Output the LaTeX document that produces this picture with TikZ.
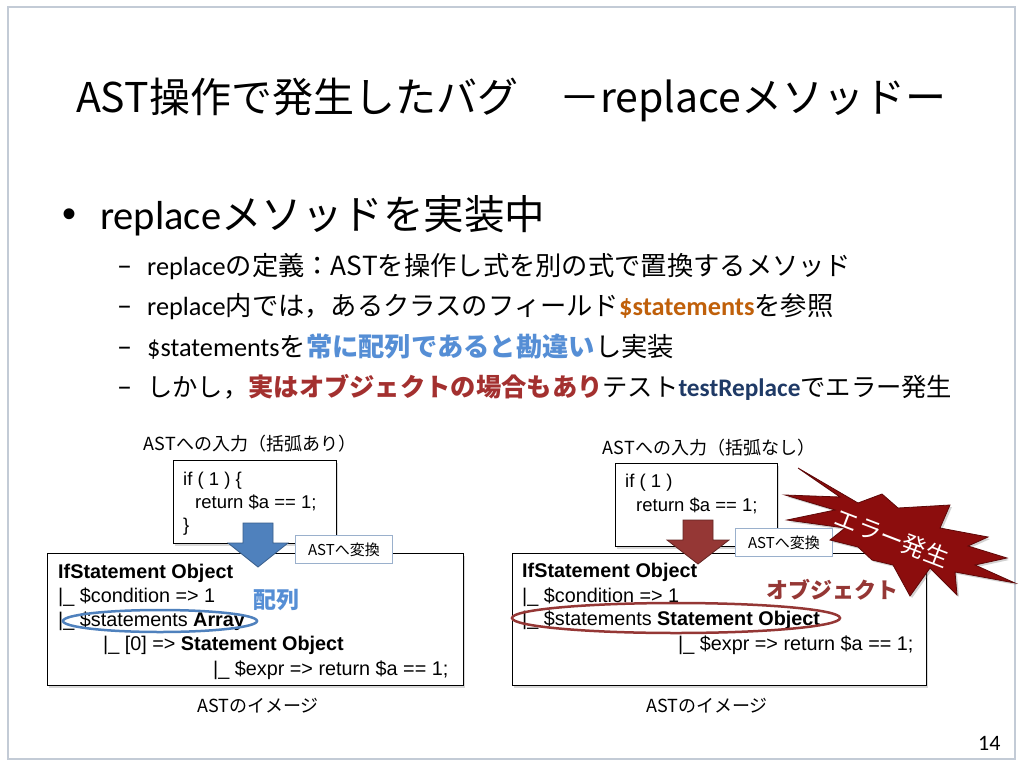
\documentclass[tikz,border=0pt]{standalone}
\usepackage{fontspec}
\setmainfont{Liberation Sans}
\newfontfamily\jpfont{Noto Sans CJK JP}
\newfontfamily\calfont{Carlito}
\usepackage{xcolor}
\usetikzlibrary{shadows}

\definecolor{framegray}{HTML}{C3CBD6}
\definecolor{arrowblue}{HTML}{4F81BD}
\definecolor{arrowblueline}{HTML}{385D8A}
\definecolor{arrowred}{HTML}{953735}
\definecolor{arrowredline}{HTML}{632523}
\definecolor{stmtorange}{HTML}{C0600A}
\definecolor{hintblue}{HTML}{558ED5}
\definecolor{hintred}{HTML}{A3302F}
\definecolor{testnavy}{HTML}{1F3A66}
\definecolor{burstred}{HTML}{8C0D0D}
\definecolor{burstline}{HTML}{5E0808}
\definecolor{convline}{HTML}{9AB0CC}
\newcommand{\setfs}[1]{\fontsize{#1}{#1}\selectfont}

\begin{document}
\begin{tikzpicture}[x=1pt,y=-1pt,
  txt/.style={inner sep=0pt, anchor=base west},
  code/.style={txt, font=\setfs{19.8}},
  incode/.style={txt, font=\setfs{18.5}},
  sub/.style={txt, font=\setfs{26.3}},
  caption/.style={inner sep=0pt, anchor=base, font=\jpfont\setfs{18}},
  codebox/.style={draw, fill=white, line width=0.9pt, inner sep=0pt, anchor=north west,
    drop shadow={shadow xshift=2pt, shadow yshift=-2.5pt, opacity=0.3}},
  convbox/.style={draw=convline, fill=white, line width=0.8pt, inner sep=0pt, anchor=north west,
    minimum width=97, minimum height=28, font=\jpfont\setfs{15}}]
\useasboundingbox (0,0) rectangle (1024,768);
\fill[white] (0,0) rectangle (1024,768);
\draw[framegray, line width=1.2pt] (8,7) rectangle (1015,759);

% title and bullets
\node[inner sep=0pt, anchor=base, font=\jpfont\setfs{41}] (title) at (511,112) {AST操作で発生したバグ　－replaceメソッドー};
\node[txt, font=\setfs{40}] (dot) at (62,227) {•};
\node[txt, font=\setfs{40.5}] (head) at (100,229) {{\calfont replace}{\jpfont メソッドを実装中}};
\foreach \y in {275,315,356,396}
  \node[txt, font=\calfont\setfs{30}] (dash\y) at (117,\y) {–};
\node[sub] (defn) at (147,275) {{\calfont replace}{\jpfont の定義：ASTを操作し式を別の式で置換するメソッド}};
\node[sub] (field) at (147,315) {{\calfont replace}{\jpfont 内では，あるクラスのフィールド}{\calfont\bfseries\color{stmtorange}\$statements}{\jpfont を参照}};
\node[sub] (mistake) at (147,356) {{\calfont \$statements}{\jpfont を}{\jpfont\bfseries\color{hintblue}常に配列であると勘違い}{\jpfont し実装}};
\node[sub, font=\setfs{25.3}] (actual) at (147,396) {{\jpfont しかし，}{\jpfont\bfseries\color{hintred}実はオブジェクトの場合もあり}{\jpfont テスト}{\calfont\bfseries\color{testnavy}testReplace}{\jpfont でエラー発生}};

% left: with braces
\node[caption] (inLcap) at (250,450) {ASTへの入力（括弧あり）};
\node[codebox, minimum width=163, minimum height=83] (inL) at (173,460) {};
\node[incode] (inL1) at (183,485) {if ( 1 ) \{};
\node[incode] (inL2) at (195,508) {return \$a == 1;};
\node[incode] (inL3) at (183,531) {\}};
\node[codebox, minimum width=416, minimum height=132] (astL) at (47,553) {};
\node[code] (astL1) at (58,578) {\bfseries IfStatement Object};
\node[code] (astL2) at (58,602) {|\_ \$condition => 1};
\node[code] (astL3) at (58,626) {|\_ \$statements \textbf{Array}};
\node[code] (astL4) at (103,650) {|\_ [0] => \textbf{Statement Object}};
\node[code] (astL5) at (213,675) {|\_ \$expr => return \$a == 1;};
\filldraw[fill=arrowblue, draw=arrowblueline, line width=0.8pt] (243,523) -- (273,523) -- (273,543) -- (288,543) -- (258,567) -- (228,543) -- (243,543) -- cycle;
\node[convbox] (convL) at (295,535) {ASTへ変換};
\node[inner sep=0pt, font=\jpfont\bfseries\setfs{23}, text=hintblue] (arrayL) at (276,600) {配列};
\draw[arrowblue, line width=2.5pt] (160,621) ellipse [x radius=97, y radius=11];
\node[caption] (imgL) at (258,712) {ASTのイメージ};

% right: without braces
\node[caption] (inRcap) at (709,454) {ASTへの入力（括弧なし）};
\node[codebox, minimum width=162, minimum height=83] (inR) at (615,463) {};
\node[incode] (inR1) at (625,487) {if ( 1 )};
\node[incode] (inR2) at (636,511) {return \$a == 1;};
\node[codebox, minimum width=414, minimum height=132] (astR) at (512,553) {};
\node[code] (astR1) at (522,577) {\bfseries IfStatement Object};
\node[code] (astR2) at (522,602) {|\_ \$condition => 1};
\node[code] (astR3) at (522,625) {|\_ \$statements \textbf{Statement Object}};
\node[code] (astR4) at (678,650) {|\_ \$expr => return \$a == 1;};
\filldraw[fill=arrowred, draw=arrowredline, line width=0.8pt] (683,520) -- (713,520) -- (713,540) -- (729,540) -- (698,564) -- (667,540) -- (683,540) -- cycle;
\node[convbox] (convR) at (735,528) {ASTへ変換};
\node[inner sep=0pt, font=\jpfont\bfseries\setfs{22}, text=arrowred] (objR) at (832,590) {オブジェクト};
\draw[arrowred, line width=2.5pt] (676,618) ellipse [x radius=164, y radius=15];
\node[caption] (imgR) at (707,712) {ASTのイメージ};

% error burst
\filldraw[fill=burstred, draw=burstline, line width=0.8pt, drop shadow={shadow xshift=2pt, shadow yshift=-2pt, opacity=0.35}]
  (798,468) -- (858,503) -- (882,494) -- (898,508) -- (950,505) -- (940,528) -- (988,537) -- (968,546)
  -- (1007,558) -- (975,565) -- (1015,583) -- (955,572) -- (957,595) -- (930,568) -- (910,596) -- (893,565)
  -- (872,560) -- (858,547) -- (830,540) -- (845,528) -- (787,520) -- (835,510) -- (785,495) -- (840,497) -- cycle;
\node[inner sep=0pt, rotate=-21, font=\jpfont\setfs{24}, text=white] (err) at (892,538) {エラー発生};

\node[txt, font=\calfont\setfs{22}] (page) at (978,750) {14};
\end{tikzpicture}
\end{document}
